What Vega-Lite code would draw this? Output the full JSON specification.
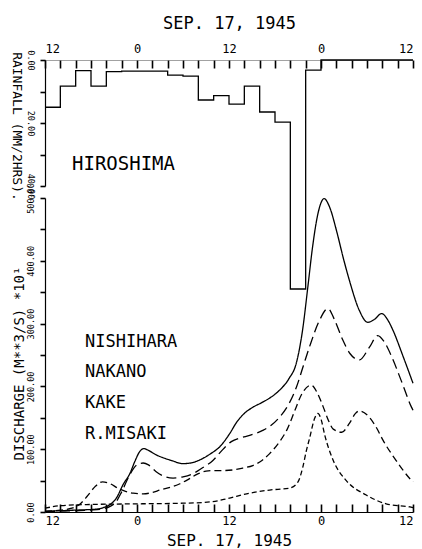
{
  "$schema": "https://vega.github.io/schema/vega-lite/v6.json",
  "width": 368,
  "height": 452,
  "autosize": "none",
  "padding": {"left": 45, "top": 60, "right": 9, "bottom": 37},
  "background": "white",
  "config": {
    "view": {"stroke": null},
    "font": "DejaVu Sans Mono",
    "axis": {
      "grid": false,
      "ticks": true,
      "domainColor": "black",
      "domainWidth": 1.2,
      "tickColor": "black",
      "tickWidth": 1.6,
      "tickOpacity": 1,
      "labelColor": "black",
      "titleColor": "black",
      "titleFontWeight": "normal",
      "labelFont": "DejaVu Sans Mono",
      "titleFont": "DejaVu Sans Mono",
      "labelOverlap": false
    }
  },
  "datasets": {
    "rain": [
      {"t": -12, "mm": 15.0}, {"t": -10, "mm": 8.3}, {"t": -8, "mm": 3.4}, {"t": -6, "mm": 8.3},
      {"t": -4, "mm": 3.7}, {"t": -2, "mm": 3.5}, {"t": 0, "mm": 3.5}, {"t": 2, "mm": 3.5},
      {"t": 4, "mm": 4.8}, {"t": 6, "mm": 5.1}, {"t": 8, "mm": 12.7}, {"t": 10, "mm": 11.3},
      {"t": 12, "mm": 14.0}, {"t": 14, "mm": 8.3}, {"t": 16, "mm": 16.5}, {"t": 18, "mm": 19.7},
      {"t": 20, "mm": 72.7}, {"t": 22, "mm": 3.2}, {"t": 24, "mm": 0}, {"t": 36, "mm": 0}
    ],
    "flow": [
      {"station": "NISHIHARA", "t": -12, "q": 1}, {"station": "NISHIHARA", "t": -10, "q": 2},
      {"station": "NISHIHARA", "t": -8, "q": 3}, {"station": "NISHIHARA", "t": -6, "q": 4},
      {"station": "NISHIHARA", "t": -5, "q": 5}, {"station": "NISHIHARA", "t": -4.4, "q": 7},
      {"station": "NISHIHARA", "t": -3.5, "q": 12}, {"station": "NISHIHARA", "t": -2.7, "q": 22},
      {"station": "NISHIHARA", "t": -1.8, "q": 44}, {"station": "NISHIHARA", "t": -0.9, "q": 62},
      {"station": "NISHIHARA", "t": -0.3, "q": 80}, {"station": "NISHIHARA", "t": 0.4, "q": 97},
      {"station": "NISHIHARA", "t": 0.9, "q": 101}, {"station": "NISHIHARA", "t": 1.5, "q": 98},
      {"station": "NISHIHARA", "t": 2.5, "q": 91}, {"station": "NISHIHARA", "t": 3.5, "q": 86},
      {"station": "NISHIHARA", "t": 4.5, "q": 82}, {"station": "NISHIHARA", "t": 6.0, "q": 77},
      {"station": "NISHIHARA", "t": 7.0, "q": 78}, {"station": "NISHIHARA", "t": 8.2, "q": 83},
      {"station": "NISHIHARA", "t": 9.5, "q": 92}, {"station": "NISHIHARA", "t": 10.8, "q": 104},
      {"station": "NISHIHARA", "t": 12.1, "q": 125}, {"station": "NISHIHARA", "t": 13.0, "q": 143},
      {"station": "NISHIHARA", "t": 14.0, "q": 157}, {"station": "NISHIHARA", "t": 15.0, "q": 166},
      {"station": "NISHIHARA", "t": 16.4, "q": 175}, {"station": "NISHIHARA", "t": 17.5, "q": 183},
      {"station": "NISHIHARA", "t": 18.6, "q": 194}, {"station": "NISHIHARA", "t": 19.8, "q": 212},
      {"station": "NISHIHARA", "t": 20.8, "q": 238}, {"station": "NISHIHARA", "t": 21.6, "q": 290},
      {"station": "NISHIHARA", "t": 22.3, "q": 360}, {"station": "NISHIHARA", "t": 22.9, "q": 422},
      {"station": "NISHIHARA", "t": 23.6, "q": 475}, {"station": "NISHIHARA", "t": 24.4, "q": 499},
      {"station": "NISHIHARA", "t": 25.2, "q": 483}, {"station": "NISHIHARA", "t": 26.0, "q": 449},
      {"station": "NISHIHARA", "t": 27.0, "q": 400}, {"station": "NISHIHARA", "t": 27.7, "q": 369},
      {"station": "NISHIHARA", "t": 29.0, "q": 321}, {"station": "NISHIHARA", "t": 30.1, "q": 302},
      {"station": "NISHIHARA", "t": 31.0, "q": 307}, {"station": "NISHIHARA", "t": 31.9, "q": 316},
      {"station": "NISHIHARA", "t": 32.7, "q": 306}, {"station": "NISHIHARA", "t": 33.4, "q": 289},
      {"station": "NISHIHARA", "t": 34.7, "q": 248}, {"station": "NISHIHARA", "t": 36, "q": 205},

      {"station": "NAKANO", "t": -12, "q": 1}, {"station": "NAKANO", "t": -8, "q": 2},
      {"station": "NAKANO", "t": -6, "q": 3}, {"station": "NAKANO", "t": -4.5, "q": 5},
      {"station": "NAKANO", "t": -3.5, "q": 9}, {"station": "NAKANO", "t": -2.8, "q": 15},
      {"station": "NAKANO", "t": -2, "q": 32}, {"station": "NAKANO", "t": -1, "q": 58},
      {"station": "NAKANO", "t": 0, "q": 75}, {"station": "NAKANO", "t": 0.8, "q": 78},
      {"station": "NAKANO", "t": 1.5, "q": 75}, {"station": "NAKANO", "t": 2.5, "q": 64},
      {"station": "NAKANO", "t": 3.5, "q": 57}, {"station": "NAKANO", "t": 4.7, "q": 54},
      {"station": "NAKANO", "t": 6.0, "q": 56}, {"station": "NAKANO", "t": 7.3, "q": 61},
      {"station": "NAKANO", "t": 8.5, "q": 70}, {"station": "NAKANO", "t": 9.9, "q": 82},
      {"station": "NAKANO", "t": 11.0, "q": 97}, {"station": "NAKANO", "t": 12.3, "q": 112},
      {"station": "NAKANO", "t": 13.5, "q": 118}, {"station": "NAKANO", "t": 14.7, "q": 122},
      {"station": "NAKANO", "t": 16.4, "q": 130}, {"station": "NAKANO", "t": 17.5, "q": 138},
      {"station": "NAKANO", "t": 18.6, "q": 151}, {"station": "NAKANO", "t": 19.8, "q": 172},
      {"station": "NAKANO", "t": 20.8, "q": 199}, {"station": "NAKANO", "t": 21.7, "q": 233},
      {"station": "NAKANO", "t": 22.5, "q": 263}, {"station": "NAKANO", "t": 23.8, "q": 305},
      {"station": "NAKANO", "t": 24.9, "q": 324}, {"station": "NAKANO", "t": 25.8, "q": 305},
      {"station": "NAKANO", "t": 26.8, "q": 275}, {"station": "NAKANO", "t": 27.8, "q": 252},
      {"station": "NAKANO", "t": 29.0, "q": 242}, {"station": "NAKANO", "t": 30.3, "q": 262},
      {"station": "NAKANO", "t": 31.4, "q": 281}, {"station": "NAKANO", "t": 32.3, "q": 270},
      {"station": "NAKANO", "t": 33.3, "q": 245}, {"station": "NAKANO", "t": 34.5, "q": 208},
      {"station": "NAKANO", "t": 35.8, "q": 167}, {"station": "NAKANO", "t": 36, "q": 162},

      {"station": "KAKE", "t": -12, "q": 1}, {"station": "KAKE", "t": -10, "q": 3},
      {"station": "KAKE", "t": -8.5, "q": 6}, {"station": "KAKE", "t": -7.5, "q": 12},
      {"station": "KAKE", "t": -6.5, "q": 25}, {"station": "KAKE", "t": -5.5, "q": 40},
      {"station": "KAKE", "t": -4.5, "q": 48}, {"station": "KAKE", "t": -3.5, "q": 45},
      {"station": "KAKE", "t": -2.5, "q": 38}, {"station": "KAKE", "t": -1.5, "q": 33},
      {"station": "KAKE", "t": -0.5, "q": 30}, {"station": "KAKE", "t": 0.8, "q": 29},
      {"station": "KAKE", "t": 2.0, "q": 31}, {"station": "KAKE", "t": 3.0, "q": 35},
      {"station": "KAKE", "t": 4.5, "q": 40}, {"station": "KAKE", "t": 5.6, "q": 45},
      {"station": "KAKE", "t": 6.7, "q": 52}, {"station": "KAKE", "t": 7.8, "q": 60},
      {"station": "KAKE", "t": 9.0, "q": 65}, {"station": "KAKE", "t": 9.9, "q": 66},
      {"station": "KAKE", "t": 11.2, "q": 66}, {"station": "KAKE", "t": 12.5, "q": 67},
      {"station": "KAKE", "t": 13.8, "q": 70}, {"station": "KAKE", "t": 15.1, "q": 74},
      {"station": "KAKE", "t": 16.3, "q": 82}, {"station": "KAKE", "t": 17.3, "q": 93},
      {"station": "KAKE", "t": 18.6, "q": 112}, {"station": "KAKE", "t": 19.6, "q": 132},
      {"station": "KAKE", "t": 20.6, "q": 162}, {"station": "KAKE", "t": 21.5, "q": 188},
      {"station": "KAKE", "t": 22.7, "q": 202}, {"station": "KAKE", "t": 23.5, "q": 190},
      {"station": "KAKE", "t": 24.3, "q": 167}, {"station": "KAKE", "t": 25.0, "q": 145},
      {"station": "KAKE", "t": 25.6, "q": 132}, {"station": "KAKE", "t": 26.7, "q": 127},
      {"station": "KAKE", "t": 27.7, "q": 141}, {"station": "KAKE", "t": 28.5, "q": 157},
      {"station": "KAKE", "t": 29.0, "q": 161}, {"station": "KAKE", "t": 30.3, "q": 151},
      {"station": "KAKE", "t": 31.2, "q": 135}, {"station": "KAKE", "t": 32.1, "q": 114},
      {"station": "KAKE", "t": 33.8, "q": 82}, {"station": "KAKE", "t": 35.6, "q": 53},
      {"station": "KAKE", "t": 36, "q": 48},

      {"station": "R.MISAKI", "t": -12, "q": 6}, {"station": "R.MISAKI", "t": -10, "q": 10},
      {"station": "R.MISAKI", "t": -6, "q": 12}, {"station": "R.MISAKI", "t": 0, "q": 13},
      {"station": "R.MISAKI", "t": 6, "q": 14}, {"station": "R.MISAKI", "t": 9.5, "q": 16},
      {"station": "R.MISAKI", "t": 11.7, "q": 21}, {"station": "R.MISAKI", "t": 14.3, "q": 29},
      {"station": "R.MISAKI", "t": 17.3, "q": 35}, {"station": "R.MISAKI", "t": 19.9, "q": 38},
      {"station": "R.MISAKI", "t": 21.0, "q": 48}, {"station": "R.MISAKI", "t": 21.6, "q": 70},
      {"station": "R.MISAKI", "t": 22.1, "q": 98}, {"station": "R.MISAKI", "t": 22.5, "q": 117},
      {"station": "R.MISAKI", "t": 23.2, "q": 150}, {"station": "R.MISAKI", "t": 23.6, "q": 157},
      {"station": "R.MISAKI", "t": 24.0, "q": 148}, {"station": "R.MISAKI", "t": 24.5, "q": 122},
      {"station": "R.MISAKI", "t": 25.6, "q": 82}, {"station": "R.MISAKI", "t": 27.3, "q": 50},
      {"station": "R.MISAKI", "t": 29.9, "q": 27}, {"station": "R.MISAKI", "t": 32.5, "q": 13},
      {"station": "R.MISAKI", "t": 35.6, "q": 8}, {"station": "R.MISAKI", "t": 36, "q": 7}
    ]
  },
  "layer": [
    {
      "data": {"name": "rain"},
      "mark": {"type": "line", "interpolate": "step-after", "color": "black", "strokeWidth": 1.3},
      "encoding": {
        "x": {
          "field": "t", "type": "quantitative",
          "scale": {"domain": [-12, 36], "nice": false, "zero": false},
          "axis": {
            "orient": "top",
            "title": "SEP. 17, 1945",
            "titleFontSize": 17,
            "titleY": -32,
            "titleBaseline": "alphabetic",
            "values": [-12, -10, -8, -6, -4, -2, 0, 2, 4, 6, 8, 10, 12, 14, 16, 18, 20, 22, 24, 26, 28, 30, 32, 34, 36],
            "labelExpr": "datum.value % 24 === 0 ? '0' : (datum.value % 12 === 0 ? '12' : '')",
            "labelFontSize": 12,
            "tickSize": -8,
            "labelPadding": 13,
            "domainDash": [1, 1],
            "domainColor": "#444444"
          }
        },
        "y": {
          "field": "mm", "type": "quantitative",
          "scale": {"domain": [0, 40], "range": [0, 126], "nice": false, "zero": false},
          "axis": {
            "orient": "left",
            "title": "RAINFALL (MM/2HRS).",
            "titleFontSize": 13,
            "titleAngle": 90,
            "titleX": -29,
            "titleY": 66,
            "titleAlign": "center",
            "titleBaseline": "middle",
            "values": [0, 10, 20, 30, 40],
            "labelExpr": "datum.value % 20 === 0 ? format(datum.value, '.2f') : ''",
            "labelFontSize": 8.5,
            "labelAngle": 90,
            "labelAlign": "center",
            "labelBaseline": "top",
            "tickSize": 5,
            "labelPadding": 6
          }
        }
      }
    },
    {
      "data": {"name": "flow"},
      "mark": {"type": "line", "interpolate": "monotone", "color": "black", "strokeWidth": 1.3},
      "encoding": {
        "x": {
          "field": "t", "type": "quantitative",
          "scale": {"domain": [-12, 36], "nice": false, "zero": false},
          "axis": {
            "orient": "bottom",
            "title": "SEP. 17, 1945",
            "titleFontSize": 16,
            "titleY": 33,
            "titleBaseline": "alphabetic",
            "values": [-12, -10, -8, -6, -4, -2, 0, 2, 4, 6, 8, 10, 12, 14, 16, 18, 20, 22, 24, 26, 28, 30, 32, 34, 36],
            "labelExpr": "datum.value % 24 === 0 ? '0' : (datum.value % 12 === 0 ? '12' : '')",
            "labelFontSize": 12,
            "tickSize": -8,
            "labelPadding": 11
          }
        },
        "y": {
          "field": "q", "type": "quantitative",
          "scale": {"domain": [0, 500], "range": [452, 138], "nice": false, "zero": false},
          "axis": {
            "orient": "left",
            "title": "DISCHARGE (M**3/S) *10¹",
            "titleFontSize": 14,
            "titleAngle": -90,
            "titleX": -26,
            "titleY": 303,
            "titleAlign": "center",
            "titleBaseline": "middle",
            "values": [0, 50, 100, 150, 200, 250, 300, 350, 400, 450, 500],
            "labelExpr": "datum.value % 100 === 0 ? format(datum.value, '.2f') : ''",
            "labelFontSize": 8.5,
            "labelAngle": -90,
            "labelAlign": "center",
            "labelBaseline": "alphabetic",
            "tickSize": 5,
            "labelPadding": 7
          }
        },
        "strokeDash": {
          "field": "station", "type": "nominal",
          "scale": {
            "domain": ["NISHIHARA", "NAKANO", "KAKE", "R.MISAKI"],
            "range": [[1, 0], [10, 5], [7, 4], [5, 3]]
          },
          "legend": {
            "orient": "none",
            "legendX": 27,
            "legendY": 95,
            "title": "HIROSHIMA",
            "titleFont": "DejaVu Sans Mono",
            "titleFontSize": 19,
            "titleFontWeight": "normal",
            "titleColor": "black",
            "titlePadding": 159,
            "labelFont": "DejaVu Sans Mono",
            "labelFontSize": 17,
            "labelColor": "black",
            "labelOffset": -4,
            "symbolSize": 0,
            "symbolOpacity": 0,
            "symbolStrokeWidth": 0,
            "rowPadding": 12.7
          }
        }
      }
    }
  ],
  "resolve": {
    "scale": {"x": "independent", "y": "independent"},
    "axis": {"x": "independent", "y": "independent"}
  }
}
